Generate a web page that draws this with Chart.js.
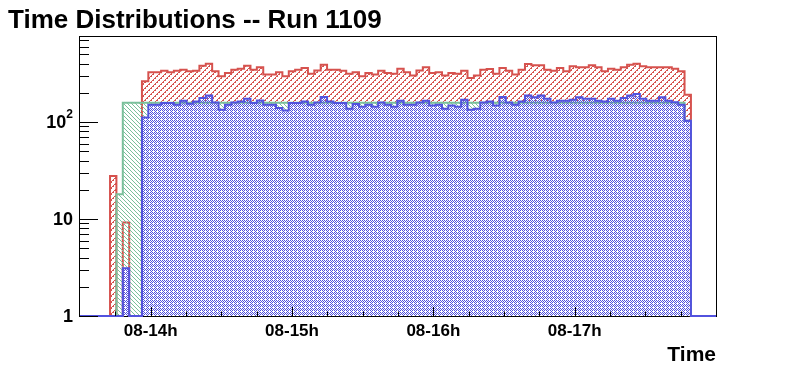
<!DOCTYPE html>
<html>
<head>
<meta charset="utf-8">
<script src="https://cdn.jsdelivr.net/npm/chart.js@4.4.1/dist/chart.umd.min.js"></script>
<style>
  html, body { margin: 0; padding: 0; background: #ffffff; }
  canvas { display: block; }
</style>
</head>
<body>
<canvas id="c" width="796" height="372"></canvas>
<script>
// ---- data ----
const chartTitle = 'Time Distributions -- Run 1109';
const xAxisTitle = 'Time';
const hourTicks = [0, 60, 120, 180];               // minutes after 14:00
const hourLabels = ['08-14h', '08-15h', '08-16h', '08-17h'];
const minorTicksX = [-15, 15, 30, 45, 75, 90, 105, 135, 150, 165, 195, 210, 225];
const yTickValues = [1, 10, 100];
const yTickBase = ['1', '10', '10'];
const yTickExp = ['', '', '2'];
const xRange = [-30, 240];
const yRange = [1, 752];
const firstBinEdge = -17.25;   // minutes
const binWidth = 2.71;         // minutes

const redCounts = [
  27.7, 0, 9.2, 0, 0,
  263, 325, 325, 338, 325, 338, 346, 333, 338, 381,
  399, 333, 296, 320, 346, 354, 381, 346, 366, 308,
  308, 325, 296, 333, 346, 360, 314, 340, 390, 346,
  346, 338, 314, 326, 296, 320, 308, 338, 320, 314,
  354, 326, 302, 340, 366, 320, 326, 302, 320, 314,
  338, 284, 302, 346, 352, 314, 360, 338, 308, 346,
  396, 385, 385, 346, 338, 360, 333, 375, 366, 366,
  384, 366, 333, 354, 346, 366, 390, 399, 375, 366,
  366, 366, 366, 354, 333, 191
];
const greenCounts = [
  0, 18, 158, 158, 158,
  158, 158, 158, 158, 158, 158, 158, 158, 158, 158,
  158, 158, 158, 158, 158, 158, 158, 158, 158, 158,
  158, 158, 158, 158, 158, 158, 158, 158, 158, 158,
  158, 158, 158, 158, 158, 158, 158, 158, 158, 158,
  158, 158, 158, 158, 158, 158, 158, 158, 158, 158,
  158, 158, 158, 158, 158, 158, 158, 158, 158, 158,
  158, 158, 158, 158, 158, 158, 158, 158, 158, 158,
  158, 158, 158, 158, 158, 158, 158, 158, 158, 158,
  158, 158, 158, 158, 158, 103
];
const blueCounts = [
  0, 0, 3.1, 0, 0,
  111, 151, 151, 157, 157, 151, 166, 154, 163, 177,
  188, 159, 134, 151, 159, 163, 174, 157, 167, 151,
  151, 139, 131, 157, 157, 163, 151, 159, 181, 163,
  157, 157, 137, 153, 144, 151, 144, 159, 151, 144,
  166, 151, 151, 159, 166, 148, 151, 137, 148, 144,
  170, 134, 137, 159, 163, 148, 181, 159, 151, 163,
  188, 180, 188, 174, 159, 166, 166, 170, 180, 174,
  174, 166, 163, 174, 166, 177, 188, 194, 174, 166,
  166, 180, 166, 160, 151, 103
];

// ---- styles ----
const FONT = '"Liberation Sans", Arial, Helvetica, sans-serif';
const RED = 'rgb(214,82,78)';
const GREEN = 'rgb(122,192,155)';
const BLUE = 'rgb(82,82,222)';
const NONE = 'rgba(0,0,0,0)';

function makePattern(color, pixels, size) {
  const c = document.createElement('canvas');
  c.width = size; c.height = size;
  const g = c.getContext('2d');
  g.fillStyle = color;
  pixels.forEach(p => g.fillRect(p[0], p[1], 1, 1));
  return document.getElementById('c').getContext('2d').createPattern(c, 'repeat');
}
const redPattern = makePattern(RED,
  [[4,0],[5,0],[3,1],[2,2],[3,2],[1,3],[0,4],[1,4],[5,5]], 6);
const greenPattern = makePattern(GREEN, [[0,0],[1,1],[2,2],[3,3]], 4);
const bluePattern = makePattern(BLUE, [[0,0],[2,0],[1,1],[3,1],[0,2],[2,2],[3,3]], 4);

function histPoints(counts) {
  const floor = yRange[0];
  const pts = [{x: xRange[0], y: floor}, {x: firstBinEdge, y: floor}];
  counts.forEach((c, i) => {
    const v = Math.max(c, floor);
    const l = firstBinEdge + i * binWidth;
    pts.push({x: l, y: v}, {x: l + binWidth, y: v});
  });
  pts.push({x: firstBinEdge + counts.length * binWidth, y: floor});
  pts.push({x: xRange[1], y: floor});
  return pts;
}

function ds(label, counts, color, fill, order) {
  return {
    label, data: histPoints(counts), borderColor: color, borderWidth: 2,
    backgroundColor: NONE, fill, pointRadius: 0, tension: 0,
    order, clip: 4, borderJoinStyle: 'miter', borderCapStyle: 'butt'
  };
}

const framePlugin = {
  id: 'frame',
  beforeDatasetsDraw(chart) {
    const {ctx, chartArea: a} = chart;
    ctx.save();
    ctx.strokeStyle = '#000'; ctx.lineWidth = 1;
    ctx.strokeRect(a.left - 0.5, a.top - 0.5, a.right - a.left + 1, a.bottom - a.top + 1);
    ctx.restore();
  },
  afterDatasetsDraw(chart) {
    const {ctx, chartArea: a, scales} = chart;
    const xs = scales.x, ys = scales.y;
    ctx.save();
    ctx.strokeStyle = '#000'; ctx.lineWidth = 1;
    ctx.beginPath();
    hourTicks.forEach(v => {
      const px = Math.round(xs.getPixelForValue(v)) + 0.5;
      ctx.moveTo(px, a.bottom); ctx.lineTo(px, a.bottom - 9);
    });
    minorTicksX.forEach(v => {
      const px = Math.round(xs.getPixelForValue(v)) + 0.5;
      ctx.moveTo(px, a.bottom); ctx.lineTo(px, a.bottom - 4.5);
    });
    for (let dec = 1; dec <= 100; dec *= 10) {
      for (let m = 1; m <= 9; m++) {
        const v = dec * m;
        if (v > yRange[1]) break;
        const py = Math.round(ys.getPixelForValue(v)) + 0.5;
        const len = m === 1 ? 18 : 9;
        ctx.moveTo(a.left, py); ctx.lineTo(a.left + len, py);
      }
    }
    ctx.stroke();

    // y tick labels with superscript exponent
    ctx.fillStyle = '#000';
    ctx.textBaseline = 'middle';
    ctx.textAlign = 'right';
    yTickValues.forEach((v, i) => {
      const py = ys.getPixelForValue(v);
      let right = a.left - 7;
      if (yTickExp[i]) {
        ctx.font = 'bold 12px ' + FONT;
        ctx.fillText(yTickExp[i], right, py - 7);
        right -= ctx.measureText(yTickExp[i]).width;
      }
      ctx.font = 'bold 18px ' + FONT;
      ctx.fillText(yTickBase[i], right, py + 1);
    });
    ctx.restore();
  },
  afterDraw(chart) {
    const {ctx, chartArea: a} = chart;
    ctx.save();
    ctx.fillStyle = '#000';
    ctx.textBaseline = 'alphabetic';
    ctx.font = 'bold 26px ' + FONT;
    ctx.textAlign = 'left';
    ctx.fillText(chartTitle, 8, 28);
    ctx.font = 'bold 21px ' + FONT;
    ctx.textAlign = 'right';
    ctx.fillText(xAxisTitle, a.right, 361);
    ctx.restore();
  }
};

new Chart(document.getElementById('c'), {
  type: 'line',
  data: {
    datasets: [
      ds('All', redCounts, RED, { target: 1, above: redPattern, below: NONE }, 3),
      ds('Ref', greenCounts, GREEN, { target: 2, above: greenPattern, below: NONE }, 2),
      ds('Good', blueCounts, BLUE, { target: 'start', above: bluePattern, below: bluePattern }, 1)
    ]
  },
  options: {
    responsive: false,
    animation: false,
    devicePixelRatio: 1,
    layout: { padding: { left: 0, right: 80, top: 37, bottom: 0 } },
    plugins: { legend: { display: false }, tooltip: { enabled: false }, title: { display: false } },
    scales: {
      x: {
        type: 'linear', min: xRange[0], max: xRange[1],
        afterBuildTicks: s => { s.ticks = hourTicks.map(v => ({value: v})); },
        afterFit: s => { s.height = 56; },
        ticks: {
          autoSkip: false, maxRotation: 0, padding: -3, color: '#000',
          font: { family: FONT, size: 17, weight: 'bold' },
          callback: v => hourLabels[hourTicks.indexOf(v)]
        },
        grid: { display: false }, border: { display: false }
      },
      y: {
        type: 'logarithmic', min: yRange[0], max: yRange[1],
        afterBuildTicks: s => { s.ticks = yTickValues.map(v => ({value: v})); },
        afterFit: s => { s.width = 80; },
        ticks: { display: false },
        grid: { display: false }, border: { display: false }
      }
    }
  },
  plugins: [framePlugin]
});
</script>
</body>
</html>
